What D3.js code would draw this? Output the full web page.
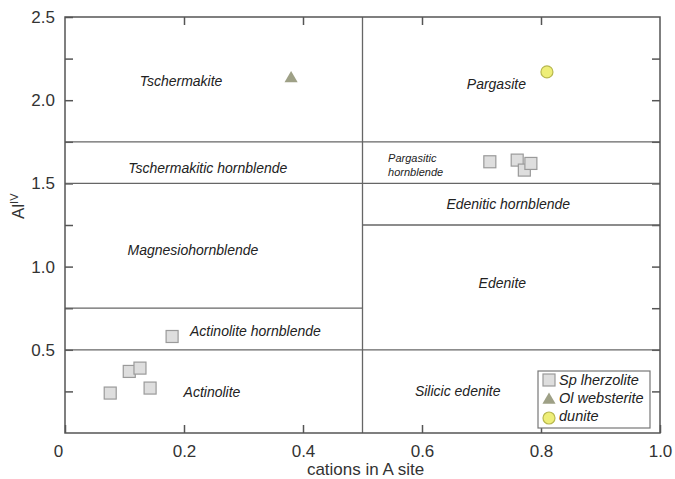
<!DOCTYPE html>
<html>
<head>
<meta charset="utf-8">
<script src="https://cdn.jsdelivr.net/npm/d3@7"></script>
<style>
body { margin: 0; background: #fff; }
svg { display: block; font-family: Arial, "Liberation Sans", sans-serif; }
.frame { fill: none; stroke: #555; stroke-width: 1.5; }
.divider { stroke: #666; stroke-width: 1.3; }
.axis path { display: none; }
.axis line { stroke: #555; stroke-width: 1.5; }
.axis text { font-size: 17px; fill: #333; }
.field { font-size: 14px; font-style: italic; fill: #222; }
.legend text { font-size: 14.5px; font-style: italic; fill: #222; }
</style>
</head>
<body>
<script>
// sample compositions: [cations in A site, Al(IV)]
var spLherzolite = [
	[0.076, 0.24], [0.108, 0.37], [0.126, 0.39], [0.143, 0.27], [0.180, 0.58],
	[0.714, 1.63], [0.760, 1.64], [0.772, 1.58], [0.783, 1.62]
];
var olWebsterite = [[0.380, 2.13]];
var dunite = [[0.810, 2.17]];

var xTicks = [0, 0.2, 0.4, 0.6, 0.8, 1.0];
var yTicks = [0.25, 0.5, 0.75, 1.0, 1.25, 1.5, 1.75, 2.0, 2.25, 2.5];

// field boundaries: [x0, x1, y]
var boundaries = [
	[0, 0.5, 1.75], [0, 0.5, 1.5], [0, 0.5, 0.75], [0, 0.5, 0.5],
	[0.5, 1, 1.75], [0.5, 1, 1.5], [0.5, 1, 1.25], [0.5, 1, 0.5]
];
var fieldNames = ["Tschermakite", "Pargasite", "Tschermakitic hornblende", "Edenitic hornblende",
	"Magnesiohornblende", "Edenite", "Actinolite hornblende", "Actinolite", "Silicic edenite"];
var fieldPos = [[0.195, 2.085], [0.725, 2.07], [0.24, 1.565], [0.745, 1.345],
	[0.215, 1.07], [0.735, 0.87], [0.32, 0.585], [0.247, 0.215], [0.66, 0.225]];

var width = 675, height = 479,
	margin = {left: 65, top: 17, right: 15, bottom: 46},
	w = width - margin.left - margin.right,
	h = height - margin.top - margin.bottom;

var svg = d3.select("body").append("svg")
	.attr("width", width)
	.attr("height", height);
var g = svg.append("g")
	.attr("transform", "translate(" + margin.left + "," + margin.top + ")");

var x = d3.scaleLinear().domain([0, 1]).range([0, w]);
var y = d3.scaleLinear().domain([0, 2.5]).range([h, 0]);

// axes with inward ticks
var xAxis = g.append("g").classed("axis", true)
	.attr("transform", "translate(0," + h + ")")
	.call(d3.axisBottom(x).tickValues(xTicks).tickSize(-8).tickPadding(12)
		.tickFormat(function(d) {return d === 0 ? "0" : d3.format(".1f")(d);}));
xAxis.selectAll("text").attr("dy", "0.71em")
	.attr("dx", function(d) {return d === 0 ? -7 : 0;});
g.append("g").classed("axis", true)
	.call(d3.axisTop(x).tickValues(xTicks.slice(1, -1)).tickSize(-8).tickFormat(""));
g.append("g").classed("axis", true)
	.call(d3.axisLeft(y).tickValues(yTicks).tickSize(-8).tickPadding(10)
		.tickFormat(function(d) {return d % 0.5 === 0 ? d3.format(".1f")(d) : "";}));
g.append("g").classed("axis", true)
	.attr("transform", "translate(" + w + ",0)")
	.call(d3.axisRight(y).tickValues(yTicks.slice(0, -1)).tickSize(-8).tickFormat(""));

// field dividers
g.append("line").classed("divider", true)
	.attr("x1", x(0.5)).attr("x2", x(0.5))
	.attr("y1", y(0)).attr("y2", y(2.5));
g.selectAll("line.bound").data(boundaries).enter()
	.append("line")
	.classed("divider", true)
	.attr("x1", function(d) {return x(d[0]);})
	.attr("x2", function(d) {return x(d[1]);})
	.attr("y1", function(d) {return y(d[2]);})
	.attr("y2", function(d) {return y(d[2]);});

g.append("rect").classed("frame", true)
	.attr("width", w)
	.attr("height", h);

// field names
g.selectAll("text.field").data(fieldNames).enter()
	.append("text")
	.classed("field", true)
	.attr("text-anchor", "middle")
	.attr("x", function(d, i) {return x(fieldPos[i][0]);})
	.attr("y", function(d, i) {return y(fieldPos[i][1]);})
	.text(function(d) {return d;});
var parg = g.append("text").classed("field", true)
	.style("font-size", "11px")
	.attr("x", x(0.543)).attr("y", y(1.63));
parg.append("tspan").text("Pargasitic");
parg.append("tspan").attr("x", x(0.543)).attr("dy", 14).text("hornblende");

// samples
g.selectAll("rect.sp").data(spLherzolite).enter()
	.append("rect")
	.classed("sp", true)
	.attr("x", function(d) {return x(d[0]) - 6;})
	.attr("y", function(d) {return y(d[1]) - 6;})
	.attr("width", 12)
	.attr("height", 12)
	.style("fill", "#dedede")
	.style("stroke", "#9a9a9a")
	.style("stroke-width", 1.2);

var tri = d3.symbol().type(d3.symbolTriangle).size(75);
g.selectAll("path.ol").data(olWebsterite).enter()
	.append("path")
	.classed("ol", true)
	.attr("d", tri)
	.attr("transform", function(d) {return "translate(" + x(d[0]) + "," + y(d[1]) + ")";})
	.style("fill", "#9ea086");

g.selectAll("circle.du").data(dunite).enter()
	.append("circle")
	.classed("du", true)
	.attr("cx", function(d) {return x(d[0]);})
	.attr("cy", function(d) {return y(d[1]);})
	.attr("r", 6)
	.style("fill", "#eeee78")
	.style("stroke", "#b8b84e")
	.style("stroke-width", 1.2);

// axis titles
svg.append("text")
	.attr("x", margin.left + x(0.5) + 3)
	.attr("y", 475)
	.attr("text-anchor", "middle")
	.style("font-size", "17px")
	.style("fill", "#333")
	.text("cations in A site");
var ylab = svg.append("text")
	.attr("transform", "translate(24,219) rotate(-90)")
	.style("font-size", "17px")
	.style("fill", "#333");
ylab.append("tspan").text("Al");
ylab.append("tspan").attr("dy", -6).style("font-size", "11px").text("IV");

// legend
var legend = svg.append("g").classed("legend", true)
	.attr("transform", "translate(538,371)");
legend.append("rect")
	.attr("width", 112)
	.attr("height", 57)
	.style("fill", "#fff")
	.style("stroke", "#777")
	.style("stroke-width", 1.2);
legend.append("rect")
	.attr("x", 5).attr("y", 3).attr("width", 12).attr("height", 12)
	.style("fill", "#dedede").style("stroke", "#9a9a9a").style("stroke-width", 1.2);
legend.append("path")
	.attr("d", tri)
	.attr("transform", "translate(11,29)")
	.style("fill", "#9ea086");
legend.append("circle")
	.attr("cx", 11).attr("cy", 47).attr("r", 6)
	.style("fill", "#eeee78").style("stroke", "#b8b84e").style("stroke-width", 1.2);
legend.selectAll("text").data(["Sp lherzolite", "Ol websterite", "dunite"]).enter()
	.append("text")
	.attr("x", 21)
	.attr("y", function(d, i) {return 14 + i * 18;})
	.text(function(d) {return d;});
</script>
</body>
</html>
